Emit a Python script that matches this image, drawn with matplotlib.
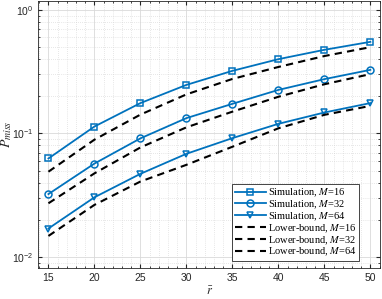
import matplotlib
matplotlib.use("Agg")
import matplotlib.pyplot as plt
from matplotlib.ticker import MultipleLocator, LogLocator, FuncFormatter, NullFormatter
import numpy as np

# data
r_bar = [15, 20, 25, 30, 35, 40, 45, 50]

sim_m16 = [0.0627, 0.1137, 0.176, 0.247, 0.321, 0.399, 0.475, 0.551]
sim_m32 = [0.0323, 0.0570, 0.0912, 0.133, 0.1736, 0.225, 0.275, 0.327]
sim_m64 = [0.0170, 0.0304, 0.0471, 0.0684, 0.0916, 0.1196, 0.1477, 0.176]

lb_m16 = [0.049, 0.089, 0.142, 0.207, 0.276, 0.345, 0.423, 0.499]
lb_m32 = [0.0272, 0.0475, 0.077, 0.112, 0.150, 0.198, 0.250, 0.302]
lb_m64 = [0.0148, 0.0264, 0.0408, 0.0557, 0.078, 0.110, 0.1414, 0.167]

sim_labels = ["Simulation, $M$=16", "Simulation, $M$=32", "Simulation, $M$=64"]
lb_labels = ["Lower-bound, $M$=16", "Lower-bound, $M$=32", "Lower-bound, $M$=64"]

plt.rcParams["font.family"] = "Liberation Sans"
plt.rcParams["mathtext.fontset"] = "stix"

blue = "#0072BD"
axc = "#262626"

fig = plt.figure(figsize=(3.82, 2.99), dpi=100)
ax = fig.add_axes([0.1003, 0.1027, 0.8945, 0.894])

markers = ["s", "o", "v"]
for ys, m, lab in zip([sim_m16, sim_m32, sim_m64], markers, sim_labels):
    ax.plot(r_bar, ys, color=blue, lw=1.3, marker=m, markersize=5,
            markerfacecolor="none", markeredgewidth=1.1, label=lab)
for ys, lab in zip([lb_m16, lb_m32, lb_m64], lb_labels):
    ax.plot(r_bar, ys, color="black", lw=1.5, ls=(0, (3.5, 2.5)), label=lab)

ax.set_yscale("log")
ax.set_xlim(13.9, 51.05)
ax.set_ylim(0.0081, 1.18)

ax.xaxis.set_major_locator(MultipleLocator(5))
ax.xaxis.set_minor_locator(MultipleLocator(1))
ax.yaxis.set_major_locator(LogLocator(base=10))
ax.yaxis.set_minor_locator(LogLocator(base=10, subs=np.arange(2, 10)))
ax.yaxis.set_minor_formatter(NullFormatter())
ax.yaxis.set_major_formatter(
    FuncFormatter(lambda v, p: r"$\mathregular{10^{%d}}$" % round(np.log10(v))))

ax.grid(True, which="major", color="#d9d9d9", lw=0.6)
ax.grid(True, which="minor", color="#d0d0d0", lw=0.5, ls=(0, (1, 2)))
ax.set_axisbelow(True)

ax.tick_params(which="both", direction="in", top=True, right=True,
               colors=axc, labelsize=7.5, labelcolor=axc)
ax.tick_params(which="major", length=3)
ax.tick_params(which="minor", length=1.5)
for s in ax.spines.values():
    s.set_color(axc)
    s.set_linewidth(0.6)

ax.set_xlabel(r"$\bar{r}$", fontsize=9, color=axc, labelpad=2)
ax.set_ylabel(r"$P_{miss}$", fontsize=10, color=axc)
ax.yaxis.set_label_coords(-0.072, 0.5)

leg = ax.legend(loc="lower right", bbox_to_anchor=(0.939, 0.027),
                prop={"family": "Liberation Serif", "size": 7.5},
                handlelength=3.0, handletextpad=0.2, labelspacing=-0.05,
                borderpad=0.25, borderaxespad=0.0, fancybox=False, framealpha=1)
leg.get_frame().set_edgecolor(axc)
leg.get_frame().set_linewidth(0.6)

fig.savefig("out.png", dpi=100)
